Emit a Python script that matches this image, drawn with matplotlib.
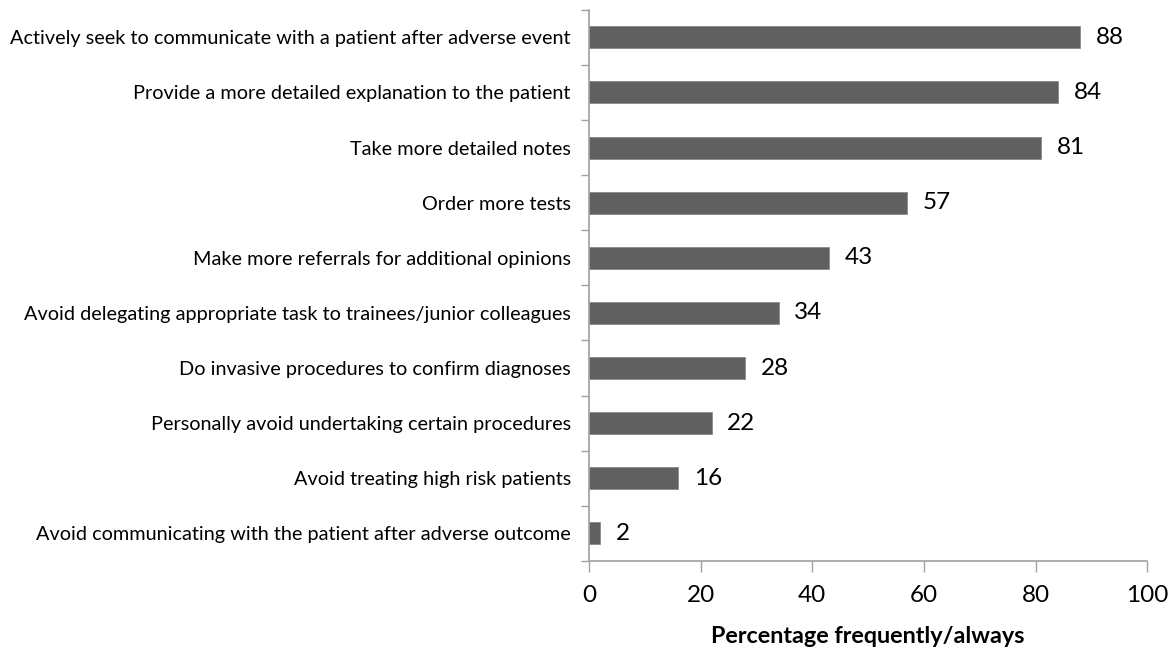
import numpy as np
import matplotlib
matplotlib.use('Agg')
import matplotlib.pyplot as plt

plt.rcParams['font.family'] = ['Lato', 'DejaVu Sans']

categories = [
    'Actively seek to communicate with a patient after adverse event',
    'Provide a more detailed explanation to the patient',
    'Take more detailed notes',
    'Order more tests',
    'Make more referrals for additional opinions',
    'Avoid delegating appropriate task to trainees/junior colleagues',
    'Do invasive procedures to confirm diagnoses',
    'Personally avoid undertaking certain procedures',
    'Avoid treating high risk patients',
    'Avoid communicating with the patient after adverse outcome',
]
values = [88, 84, 81, 57, 43, 34, 28, 22, 16, 2]
xticks = [0, 20, 40, 60, 80, 100]

fig = plt.figure(figsize=(11.73, 6.5), dpi=100)
ax = fig.add_axes([0.502, 0.137, 0.476, 0.848])

n = len(categories)
y = np.arange(n)[::-1]
ax.barh(y, values, height=0.4, color='#606060', edgecolor='#8a8a8a', linewidth=0.6)

for yi, v in zip(y, values):
    ax.text(v + 2.8, yi, str(v), va='center', ha='left', fontsize=17.5)

ax.set_xlim(0, 100)
ax.set_ylim(-0.5, n - 0.5)
ax.set_xticks(xticks)
ax.set_xticklabels([str(t) for t in xticks], fontsize=17.5)
ax.set_yticks(y)
ax.set_yticklabels(categories, fontsize=14.3)
ax.set_yticks(np.arange(-0.5, n, 1.0), minor=True)
ax.tick_params(axis='y', which='major', length=0, pad=13)
ax.tick_params(axis='y', which='minor', length=6, color='#a0a0a0', width=1)
ax.tick_params(axis='x', which='major', length=8, color='#a0a0a0', width=1, pad=9)

for s in ['top', 'right']:
    ax.spines[s].set_visible(False)
ax.spines['left'].set_color('#a0a0a0')
ax.spines['bottom'].set_color('#a0a0a0')
ax.spines['left'].set_linewidth(1.2)
ax.spines['bottom'].set_linewidth(1.2)

ax.set_xlabel('Percentage frequently/always', fontsize=16.8, fontweight='bold', labelpad=15)

fig.savefig('out.png', dpi=100)
